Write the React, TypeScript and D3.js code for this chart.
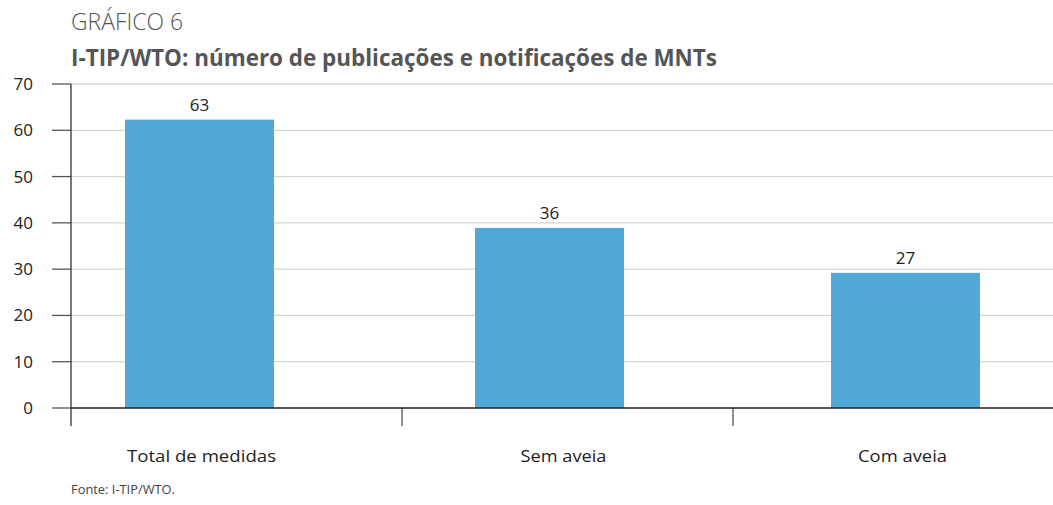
import React from "react";
import * as d3 from "d3";

const categories = ["Total de medidas", "Sem aveia", "Com aveia"];
const barValues = [62.3, 38.9, 29.2];
const barLabels = ["63", "36", "27"];
const yTicks = [0, 10, 20, 30, 40, 50, 60, 70];
const titleKicker = "GRÁFICO 6";
const titleMain = "I-TIP/WTO: número de publicações e notificações de MNTs";
const sourceText = "Fonte: I-TIP/WTO.";

const W = 1053;
const H = 505;
const plotLeft = 71;
const plotRight = 1053;
const y0 = 408;
const yTop = 84;

export default function App() {
  const y = d3.scaleLinear().domain([0, 70]).range([y0, yTop]);
  const axisBand = d3.scaleBand<string>().domain(categories).range([plotLeft, plotLeft + 331 * 3]);
  const barCenter = d3.scalePoint<string>().domain(categories).range([199.5, 905.5]);
  const barW = 149;
  const font = "'Open Sans', 'Noto Sans', sans-serif";
  const labelShift = [2, 11, -3];

  return (
    <svg width={W} height={H} style={{ position: "absolute", left: 0, top: 0, display: "block", background: "#fff" }}>
      <text x={71} y={30} fontFamily={font} fontSize={23} fill="#555" textLength={112} lengthAdjust="spacingAndGlyphs" fontWeight={300}>
        {titleKicker}
      </text>
      <text x={71} y={66} fontFamily={font} fontSize={23} fontWeight={700} fill="#555" textLength={646} lengthAdjust="spacingAndGlyphs">
        {titleMain}
      </text>

      {yTicks.map((t) => (
        <g key={t}>
          {t > 0 && <line x1={plotLeft} x2={plotRight} y1={y(t)} y2={y(t)} stroke="#d6d6d6" strokeWidth={1.3} />}
          <line x1={52} x2={plotLeft} y1={y(t)} y2={y(t)} stroke="#555" strokeWidth={1.3} />
          <text x={33} y={y(t)} dy="0.35em" textAnchor="end" fontFamily={font} fontSize={17} fill="#222">
            {t}
          </text>
        </g>
      ))}

      {categories.map((c, i) => (
        <g key={c}>
          <rect x={(barCenter(c) as number) - barW / 2 - (i === 1 ? 3 : 0)} y={y(barValues[i])} width={barW} height={y0 - y(barValues[i])} fill="#52a8d6" />
          <text x={(barCenter(c) as number) - (i === 1 ? 3 : 0)} y={y(barValues[i]) - 9} textAnchor="middle" fontFamily={font} fontSize={17} fill="#222">
            {barLabels[i]}
          </text>
          <text x={(barCenter(c) as number) + labelShift[i]} y={462} textAnchor="middle" fontFamily={font} fontSize={17} fill="#222" textLength={i === 0 ? 149 : i === 1 ? 86 : 89} lengthAdjust="spacingAndGlyphs">
            {c}
          </text>
        </g>
      ))}

      <line x1={plotLeft} x2={plotLeft} y1={yTop} y2={426} stroke="#333" strokeWidth={1.3} />
      {categories.slice(1).map((c) => (
        <line key={c} x1={axisBand(c) as number} x2={axisBand(c) as number} y1={y0} y2={426} stroke="#555" strokeWidth={1.3} />
      ))}
      <line x1={plotLeft} x2={plotRight} y1={y0} y2={y0} stroke="#222" strokeWidth={1.5} />

      <text x={71} y={494} fontFamily={font} fontSize={12} fill="#444" textLength={104} lengthAdjust="spacingAndGlyphs">
        {sourceText}
      </text>
    </svg>
  );
}
